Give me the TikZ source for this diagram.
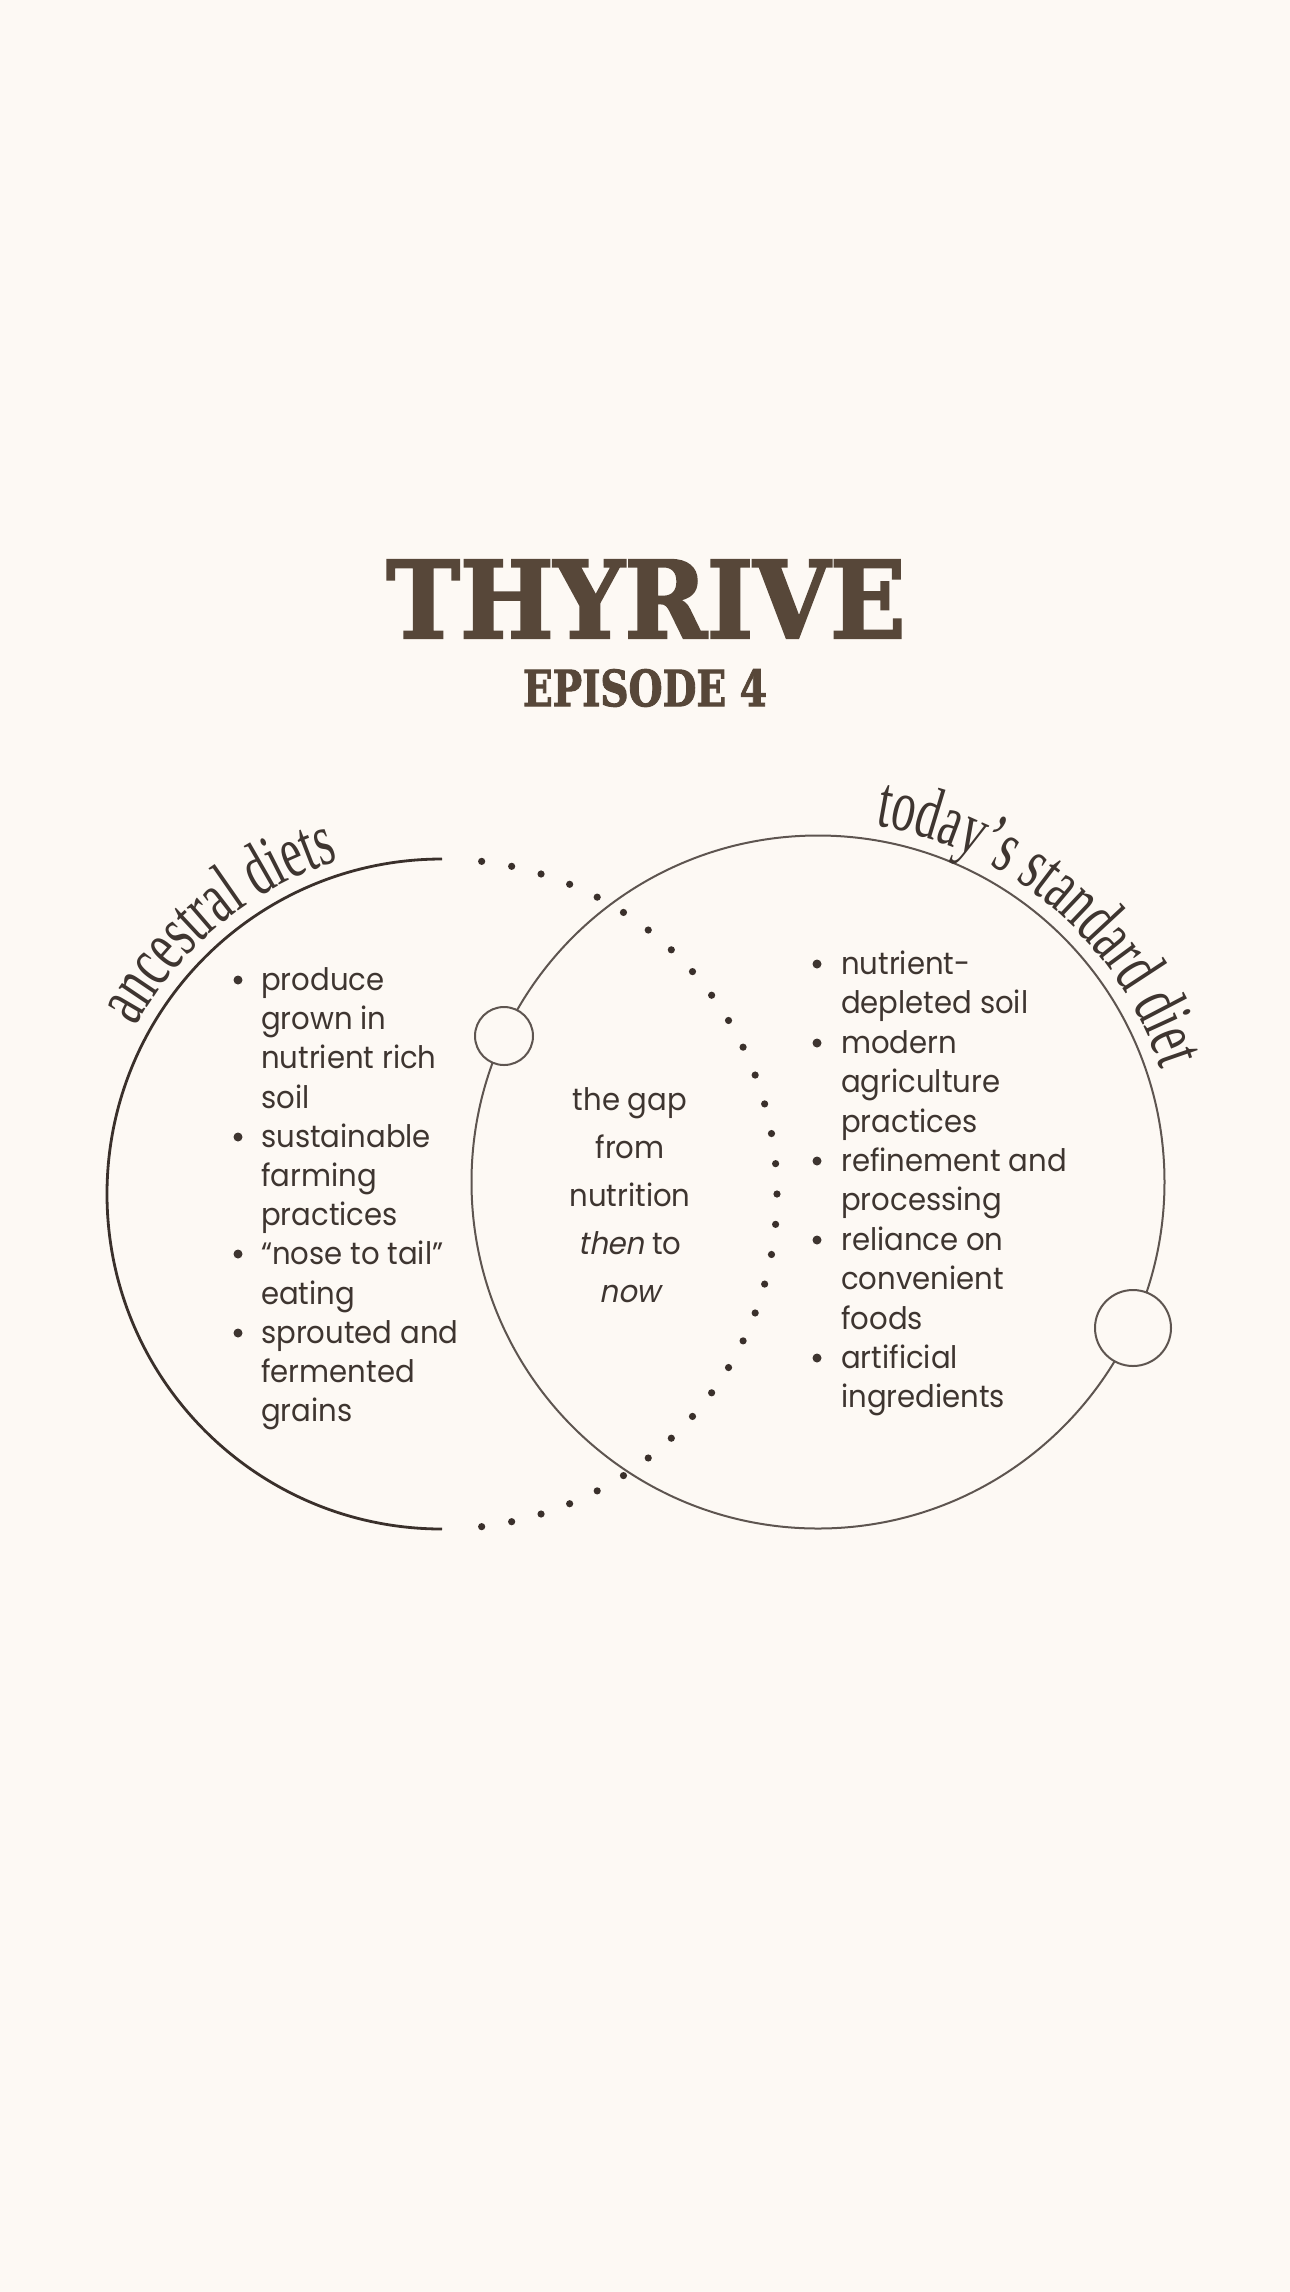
\documentclass[tikz,border=0pt]{standalone}
\usepackage{fontspec}
\usepackage{graphicx}
\usetikzlibrary{decorations.text}
\newfontfamily\titlefont{DejaVu Serif}[BoldFeatures={FakeBold=2.2}]
\newfontfamily\curvefont{Liberation Serif}[FakeStretch=0.64]
\newfontfamily\bodyfont{Poppins}[FakeStretch=0.94, ItalicFont=Poppins, ItalicFeatures={FakeSlant=0.2}]
\definecolor{bg}{HTML}{FDF9F4}
\definecolor{titlecol}{HTML}{574739}
\definecolor{textcol}{HTML}{3E3530}
\definecolor{arccol}{HTML}{3A302B}
\definecolor{ringcol}{HTML}{5E5550}
\tikzset{
  body/.style={text=textcol, font=\bodyfont\fontsize{31pt}{31pt}\selectfont, inner sep=0pt},
  bulletdot/.style={fill=textcol},
  leftarc/.style={draw=arccol, line width=2.8pt},
  ring/.style={draw=ringcol, line width=2pt},
  knob/.style={draw=ringcol, line width=2pt, fill=bg},
  gapdot/.style={fill=arccol},
}
\begin{document}
\begin{tikzpicture}[x=1pt,y=1pt]
\fill[bg] (0,0) rectangle (1290,-2292);
\useasboundingbox (0,0) rectangle (1290,-2292);

% title
\node[text=titlecol, inner sep=0pt] (title) at (646,-599) {\resizebox{519pt}{78pt}{\titlefont\bfseries THYRIVE}};
\node[text=titlecol, inner sep=0pt] (episode) at (645,-688) {\resizebox{244pt}{37pt}{\titlefont\bfseries EPISODE 4}};

% centres
\coordinate (lc) at (442,-1194);
\coordinate (rc) at (818,-1182);

% right circle
\draw[ring] (rc) circle[radius=346.5pt];

% left half arc
\draw[leftarc] (442,-859) arc[start angle=90, end angle=270, radius=335pt];

% dotted right half of left circle
\foreach \i in {0,...,32}{
  \fill[gapdot] ({442+335*cos(83.2-5.2*\i)},{-1194+335*sin(83.2-5.2*\i)}) circle[radius=3.6pt];
}

% small knobs
\draw[knob] (504,-1036) circle[radius=29pt];
\draw[knob] (1133,-1328) circle[radius=38pt];

% curved titles
\path[decorate, decoration={text along path, text align=center, text color=textcol,
  text={|\curvefont\fontsize{74pt}{74pt}\selectfont|ancestral diets}}]
  ({442+349*cos(152.5)},{-1194+349*sin(152.5)}) arc[start angle=152.5, end angle=106, radius=349pt];
\path[decorate, decoration={text along path, text align=center, text color=textcol,
  text={|\curvefont\fontsize{74pt}{74pt}\selectfont|today’s standard diet}}]
  ({818+361*cos(82)},{-1182+361*sin(82)}) arc[start angle=82, end angle=17, radius=361pt];

% left list
\foreach \t/\y/\b [count=\k] in {produce/990/1, grown in/1029/0, nutrient rich/1068/0, soil/1108/0,
  sustainable/1147/1, farming/1186/0, practices/1225/0, “nose to tail”/1264/1, eating/1304/0,
  sprouted and/1343/1, fermented/1382/0, grains/1421/0}{
  \node[body, anchor=base west] (L\k) at (261,-\y) {\t};
  \ifnum\b=1 \fill[bulletdot] (238,{-\y+10}) circle[radius=4.5pt];\fi
}

% right list
\foreach \t/\y/\b [count=\k] in {nutrient-/974/1, depleted soil/1013/0, modern/1053/1, agriculture/1092/0,
  practices/1132/0, refinement and/1171/1, processing/1210/0, reliance on/1250/1, convenient/1289/0,
  foods/1329/0, artificial/1368/1, ingredients/1407/0}{
  \node[body, anchor=base west] (R\k) at (841,-\y) {\t};
  \ifnum\b=1 \fill[bulletdot] (817,{-\y+10}) circle[radius=4.5pt];\fi
}

% centre text
\node[body, anchor=base] (c1) at (630,-1110) {the gap};
\node[body, anchor=base] (c2) at (630,-1158) {from};
\node[body, anchor=base] (c3) at (630,-1206) {nutrition};
\node[body, anchor=base] (c4) at (630,-1254) {\itshape then\upshape{} to};
\node[body, anchor=base] (c5) at (630,-1302) {\itshape now};
\end{tikzpicture}
\end{document}
